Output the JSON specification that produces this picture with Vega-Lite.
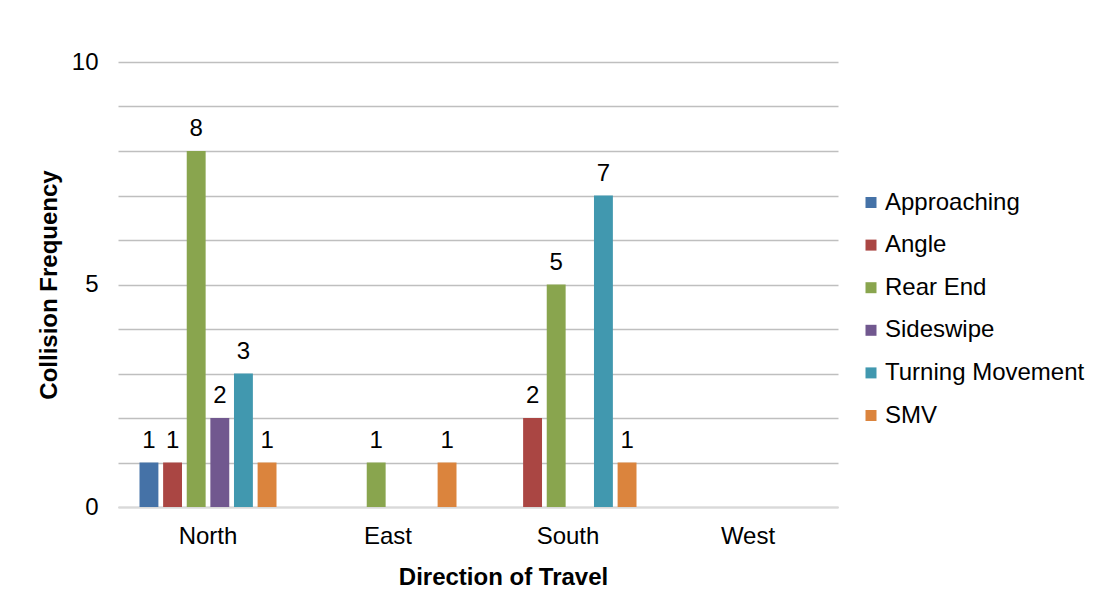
{
  "$schema": "https://vega.github.io/schema/vega-lite/v6.json",
  "width": 720,
  "height": 445,
  "autosize": {"type": "none"},
  "padding": {"left": 118, "top": 62, "right": 264, "bottom": 98},
  "background": "white",
  "config": {
    "view": {"stroke": null},
    "font": "Liberation Sans",
    "axis": {"labelColor": "#000000", "titleColor": "#000000"}
  },
  "data": {
    "values": [
      {"direction": "North", "type": "Approaching", "count": 1},
      {"direction": "North", "type": "Angle", "count": 1},
      {"direction": "North", "type": "Rear End", "count": 8},
      {"direction": "North", "type": "Sideswipe", "count": 2},
      {"direction": "North", "type": "Turning Movement", "count": 3},
      {"direction": "North", "type": "SMV", "count": 1},
      {"direction": "East", "type": "Rear End", "count": 1},
      {"direction": "East", "type": "SMV", "count": 1},
      {"direction": "South", "type": "Angle", "count": 2},
      {"direction": "South", "type": "Rear End", "count": 5},
      {"direction": "South", "type": "Turning Movement", "count": 7},
      {"direction": "South", "type": "SMV", "count": 1}
    ]
  },
  "encoding": {
    "x": {
      "field": "direction",
      "type": "nominal",
      "scale": {"domain": ["North", "East", "South", "West"], "paddingInner": 0, "paddingOuter": 0},
      "axis": {
        "title": "Direction of Travel",
        "titleFontSize": 24,
        "titleFontWeight": "bold",
        "titlePadding": 17,
        "titleX": 385,
        "labelFontSize": 24,
        "labelAngle": 0,
        "labelPadding": 17,
        "ticks": false,
        "domain": true,
        "domainColor": "#D9D9D9",
        "domainWidth": 2,
        "grid": false
      }
    },
    "xOffset": {
      "field": "type",
      "type": "nominal",
      "scale": {
        "domain": ["Approaching", "Angle", "Rear End", "Sideswipe", "Turning Movement", "SMV"],
        "paddingInner": 0.2,
        "paddingOuter": 0.91
      }
    },
    "y": {
      "field": "count",
      "type": "quantitative",
      "scale": {"domain": [0, 10], "nice": false},
      "axis": {
        "title": "Collision Frequency",
        "titleFontSize": 24,
        "titleFontWeight": "bold",
        "titlePadding": 10,
        "labelFontSize": 24,
        "labelPadding": 20,
        "ticks": false,
        "domain": false,
        "grid": true,
        "gridColor": "#BFBFBF",
        "gridWidth": 1.5,
        "values": [0, 1, 2, 3, 4, 5, 6, 7, 8, 9, 10],
        "labelExpr": "datum.value % 5 === 0 ? datum.label : ''"
      }
    }
  },
  "layer": [
    {
      "mark": {"type": "bar"},
      "encoding": {
        "color": {
          "field": "type",
          "type": "nominal",
          "scale": {
            "domain": ["Approaching", "Angle", "Rear End", "Sideswipe", "Turning Movement", "SMV"],
            "range": ["#4572A7", "#AA4643", "#89A54E", "#71588F", "#4198AF", "#DB843D"]
          },
          "legend": {
            "title": null,
            "orient": "none",
            "legendX": 741,
            "legendY": 128.5,
            "symbolType": "square",
            "symbolSize": 121,
            "symbolStrokeWidth": 0,
            "labelFontSize": 24,
            "labelColor": "#000000",
            "labelOffset": 2,
            "labelLimit": 0,
            "rowPadding": 18.6,
            "padding": 0
          }
        }
      }
    },
    {
      "mark": {"type": "text", "baseline": "alphabetic", "dy": -15, "fontSize": 24, "color": "#000000"},
      "encoding": {"text": {"field": "count", "type": "quantitative"}}
    }
  ]
}
